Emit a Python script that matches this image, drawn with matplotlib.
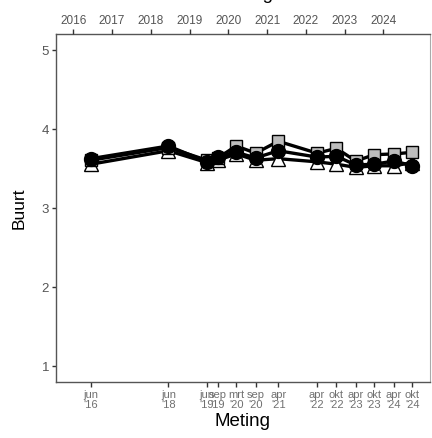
import matplotlib
matplotlib.use("Agg")
import matplotlib.pyplot as plt
import matplotlib.dates as mdates
from datetime import date

plt.rcParams['font.family'] = ['Liberation Sans', 'DejaVu Sans']

# ---- data ----
meting_dates = [date(2016, 6, 15), date(2018, 6, 15), date(2019, 6, 15), date(2019, 9, 25),
                date(2020, 3, 15), date(2020, 9, 15), date(2021, 4, 15), date(2022, 4, 15),
                date(2022, 10, 15), date(2023, 4, 15), date(2023, 10, 5), date(2024, 4, 10),
                date(2024, 9, 28)]
meting_labels = ["jun\n'16", "jun\n'18", "jun\n'19", "sep\n'19", "mrt\n'20", "sep\n'20",
                 "apr\n'21", "apr\n'22", "okt\n'22", "apr\n'23", "okt\n'23", "apr\n'24",
                 "okt\n'24"]
years = [2016, 2017, 2018, 2019, 2020, 2021, 2022, 2023, 2024]

series_circle = [3.62, 3.78, 3.58, 3.64, 3.70, 3.63, 3.72, 3.64, 3.65, 3.54, 3.55, 3.59, 3.53]
series_square = [3.60, 3.76, 3.60, 3.63, 3.78, 3.69, 3.84, 3.69, 3.75, 3.59, 3.67, 3.68, 3.70]
series_triangle = [3.55, 3.72, 3.57, 3.60, 3.68, 3.60, 3.62, 3.58, 3.55, 3.51, 3.53, 3.53, 3.57]

y_ticks = [1, 2, 3, 4, 5]

# ---- figure ----
fig = plt.figure(figsize=(4.32, 4.39), dpi=100)
ax = fig.add_axes([56/432, 1 - 382.7/439, (430 - 56)/432, (382.7 - 34.7)/439])

ax.plot(meting_dates, series_triangle, color='black', lw=2.4, marker='^', markersize=10,
        markerfacecolor='white', markeredgecolor='black', markeredgewidth=1, zorder=3)
ax.plot(meting_dates, series_square, color='black', lw=2.4, marker='s', markersize=8.5,
        markerfacecolor='#bdbdbd', markeredgecolor='black', markeredgewidth=1, zorder=4)
ax.plot(meting_dates, series_circle, color='black', lw=2.4, marker='o', markersize=10,
        markerfacecolor='black', markeredgecolor='black', zorder=5)

ax.set_ylim(0.8, 5.2)
ax.set_yticks(y_ticks)
ax.set_yticklabels([str(v) for v in y_ticks])
ax.set_xlim(date(2015, 7, 23), date(2025, 3, 14))
ax.set_xticks(meting_dates)
ax.set_xticklabels(meting_labels, linespacing=1.0)

spine_col = '#555555'
for s in ['left', 'bottom', 'top']:
    ax.spines[s].set_color(spine_col)
    ax.spines[s].set_linewidth(1.0)
ax.spines['right'].set_color('#aaaaaa')
ax.spines['right'].set_linewidth(0.8)

ax.tick_params(axis='x', direction='out', length=3.5, width=1.0, color='#333333',
               labelsize=8, labelcolor='#707070', pad=2)
ax.tick_params(axis='y', direction='out', length=3, width=1.0, color='#333333',
               labelsize=9.5, labelcolor='#555555', pad=2)

ax.set_ylabel('Buurt', fontsize=12.5, color='black', labelpad=11)
ax.set_xlabel('Meting', fontsize=13.5, color='black', labelpad=2)

# secondary top axis with years
ax2 = ax.twiny()
ax2.set_xlim(ax.get_xlim())
ax2.set_xticks([mdates.date2num(date(y, 1, 1)) for y in years])
ax2.set_xticklabels([str(y) for y in years])
ax2.tick_params(axis='x', direction='out', length=3.5, width=1.0, color='#333333',
                labelsize=8.5, labelcolor='#555555', pad=2)
for s in ax2.spines.values():
    s.set_visible(False)

fig.text(0.568, 1 + 1.0/439, 'Meting', fontsize=13.5, ha='center', va='baseline', color='black')

fig.savefig('out.png', dpi=100)
